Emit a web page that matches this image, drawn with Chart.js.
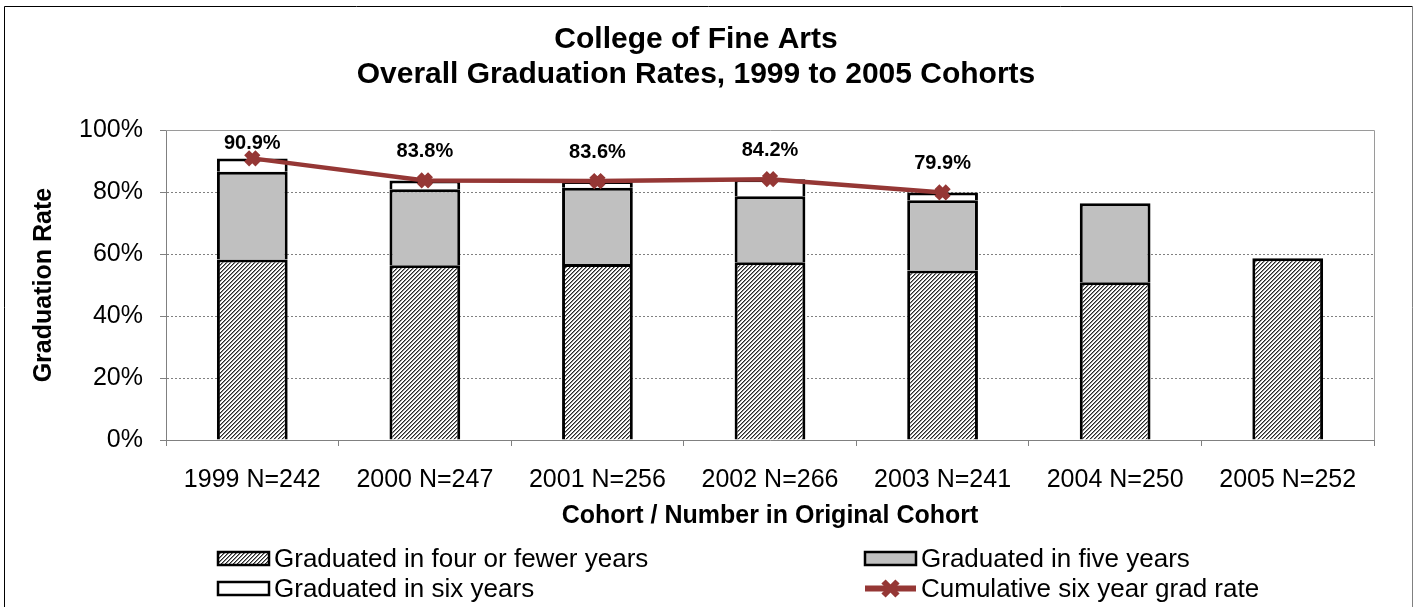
<!DOCTYPE html>
<html>
<head>
<meta charset="utf-8">
<script src="https://cdn.jsdelivr.net/npm/chart.js@4.4.1/dist/chart.umd.min.js"></script>
<style>
  html, body { margin: 0; padding: 0; background: #fff; }
  canvas { display: block; }
</style>
</head>
<body>
<canvas id="c" width="1418" height="607"></canvas>
<script>
// ---- data ----
const categories = ['1999 N=242', '2000 N=247', '2001 N=256', '2002 N=266', '2003 N=241', '2004 N=250', '2005 N=252'];
const fourOrFewer = [58.3, 56.4, 56.8, 57.4, 54.7, 50.9, 58.7];
const fiveYears   = [28.3, 24.5, 24.6, 21.3, 22.7, 25.5, null];
const sixYears    = [4.3, 2.9, 2.2, 5.5, 2.5, null, null];
const cumulative  = [90.9, 83.8, 83.6, 84.2, 79.9, null, null];
const seriesNames = ['Graduated in four or fewer years', 'Graduated in five years', 'Graduated in six years', 'Cumulative six year grad rate'];
const yTicks = [0, 20, 40, 60, 80, 100];
const titleLines = ['College of Fine Arts', 'Overall Graduation Rates, 1999 to 2005 Cohorts'];

const FONT = "'Liberation Sans', Arial, sans-serif";
Chart.defaults.font.family = FONT;
Chart.defaults.color = '#000';

const canvas = document.getElementById('c');
const ctx = canvas.getContext('2d');

function makeHatch() {
  const c = document.createElement('canvas');
  c.width = 8; c.height = 8;
  const x = c.getContext('2d');
  const img = x.createImageData(8, 8);
  for (let j = 0; j < 8; j++) for (let i = 0; i < 8; i++) {
    const k = (i + j) % 4;
    let v = 255;
    if (k === 0) v = 40; else if (k === 1) v = 140;
    const p = (j * 8 + i) * 4;
    img.data[p] = img.data[p + 1] = img.data[p + 2] = v;
    img.data[p + 3] = 255;
  }
  x.putImageData(img, 0, 0);
  return ctx.createPattern(c, 'repeat');
}
const hatch = makeHatch();
const lineColor = '#953735';

const frame = {
  id: 'frame',
  beforeDraw(chart) {
    const c = chart.ctx;
    c.save();
    c.fillStyle = '#fff';
    c.fillRect(0, 0, chart.width, chart.height);
    c.lineWidth = 1;
    c.strokeStyle = '#000';
    c.beginPath();
    c.moveTo(4.5, 620); c.lineTo(4.5, 6.5); c.lineTo(1412.5, 6.5);
    c.stroke();
    c.strokeStyle = '#808080';
    c.beginPath();
    c.moveTo(1412.5, 6.5); c.lineTo(1412.5, 620);
    c.stroke();
    c.restore();
  },
  beforeDatasetsDraw(chart) {
    const a = chart.chartArea, c = chart.ctx;
    c.save();
    c.strokeStyle = '#9a9a9a';
    c.lineWidth = 1;
    c.beginPath();
    c.moveTo(a.left, Math.round(a.top) + 0.5);
    c.lineTo(Math.round(a.right) + 0.5, Math.round(a.top) + 0.5);
    c.lineTo(Math.round(a.right) + 0.5, a.bottom);
    c.stroke();
    c.restore();
  }
};

const labelsPlugin = {
  id: 'valueLabels',
  afterDatasetsDraw(chart) {
    const c = chart.ctx;
    const meta = chart.getDatasetMeta(3);
    c.save();
    c.font = 'bold 20px ' + FONT;
    c.fillStyle = '#000';
    c.textAlign = 'center';
    c.textBaseline = 'middle';
    meta.data.forEach((pt, i) => {
      const v = chart.data.datasets[3].data[i];
      if (v == null) return;
      const y = Math.max(pt.y - 29, chart.chartArea.top + 13);
      c.fillText(v.toFixed(1) + '%', pt.x, y);
    });
    c.restore();
  }
};

const legendPlugin = {
  id: 'customLegend',
  afterDraw(chart) {
    const c = chart.ctx;
    const ds = chart.data.datasets;
    const slots = [
      { x: 218, y: 558.5 }, { x: 865, y: 558.5 },
      { x: 218, y: 588.5 }, { x: 865, y: 588.5 }
    ];
    c.save();
    c.font = '26px ' + FONT;
    c.textBaseline = 'middle';
    c.textAlign = 'left';
    ds.forEach((d, k) => {
      const s = slots[k];
      const bw = 51, bh = 13;
      if (d.type === 'line') {
        c.strokeStyle = d.borderColor;
        c.lineWidth = 6;
        c.beginPath();
        c.moveTo(s.x, s.y); c.lineTo(s.x + bw, s.y);
        c.stroke();
        const cx = s.x + bw / 2, r = 7;
        c.beginPath();
        c.moveTo(cx - r, s.y - r); c.lineTo(cx + r, s.y + r);
        c.moveTo(cx + r, s.y - r); c.lineTo(cx - r, s.y + r);
        c.stroke();
      } else {
        c.fillStyle = d.backgroundColor;
        c.fillRect(s.x, s.y - bh / 2, bw, bh);
        c.strokeStyle = '#000';
        c.lineWidth = 2.5;
        c.strokeRect(s.x, s.y - bh / 2, bw, bh);
      }
      c.fillStyle = '#000';
      c.fillText(d.label, s.x + bw + 5, s.y + 1);
    });
    c.restore();
  }
};

new Chart(ctx, {
  data: {
    labels: categories,
    datasets: [
      { type: 'bar', label: seriesNames[0], data: fourOrFewer, backgroundColor: hatch, borderColor: '#000', borderWidth: 3, stack: 'grad', order: 2 },
      { type: 'bar', label: seriesNames[1], data: fiveYears, backgroundColor: '#C0C0C0', borderColor: '#000', borderWidth: 3, stack: 'grad', order: 2 },
      { type: 'bar', label: seriesNames[2], data: sixYears, backgroundColor: '#FFFFFF', borderColor: '#000', borderWidth: 3, stack: 'grad', order: 2 },
      { type: 'line', label: seriesNames[3], data: cumulative, borderColor: lineColor, backgroundColor: lineColor,
        borderWidth: 4.5, pointStyle: 'crossRot', pointRadius: 8, pointBorderWidth: 7, pointBorderColor: lineColor,
        pointBackgroundColor: lineColor, tension: 0, stack: 'cum', order: 0, spanGaps: false }
    ]
  },
  options: {
    responsive: false,
    animation: false,
    layout: { padding: { left: 18, right: 44, top: 0, bottom: 72 } },
    datasets: { bar: { barPercentage: 0.41, categoryPercentage: 1.0 } },
    plugins: {
      legend: { display: false },
      tooltip: { enabled: false },
      title: {
        display: true,
        text: titleLines,
        color: '#000',
        font: { size: 30, weight: 'bold', lineHeight: 1.17 },
        padding: { top: 22, bottom: 38 }
      }
    },
    scales: {
      x: {
        stacked: true,
        grid: { display: true, drawOnChartArea: false, drawTicks: true, tickLength: 6, color: '#808080', offset: true },
        border: { display: true, color: '#808080', width: 1 },
        ticks: { font: { size: 25 }, color: '#000', padding: 19, maxRotation: 0, autoSkip: false },
        title: { display: true, text: 'Cohort / Number in Original Cohort', color: '#000', font: { size: 25, weight: 'bold', lineHeight: 1.2 }, padding: { top: 0, bottom: 4 } },
        afterFit(s) { s.height = 95; }
      },
      y: {
        stacked: true,
        min: 0, max: 100,
        afterBuildTicks(s) { s.ticks = yTicks.map(v => ({ value: v })); },
        grid: { color: '#808080', lineWidth: 1, tickLength: 6, drawTicks: true, tickColor: '#808080' },
        border: { display: true, color: '#808080', width: 1, dash: [2, 2] },
        ticks: { font: { size: 25 }, color: '#000', padding: 17, callback: v => v + '%' },
        title: { display: true, text: 'Graduation Rate', color: '#000', font: { size: 25, weight: 'bold', lineHeight: 1.2 }, padding: { top: 11, bottom: 0 } },
        afterFit(s) { s.width = 148; }
      }
    }
  },
  plugins: [frame, labelsPlugin, legendPlugin]
});
</script>
</body>
</html>
